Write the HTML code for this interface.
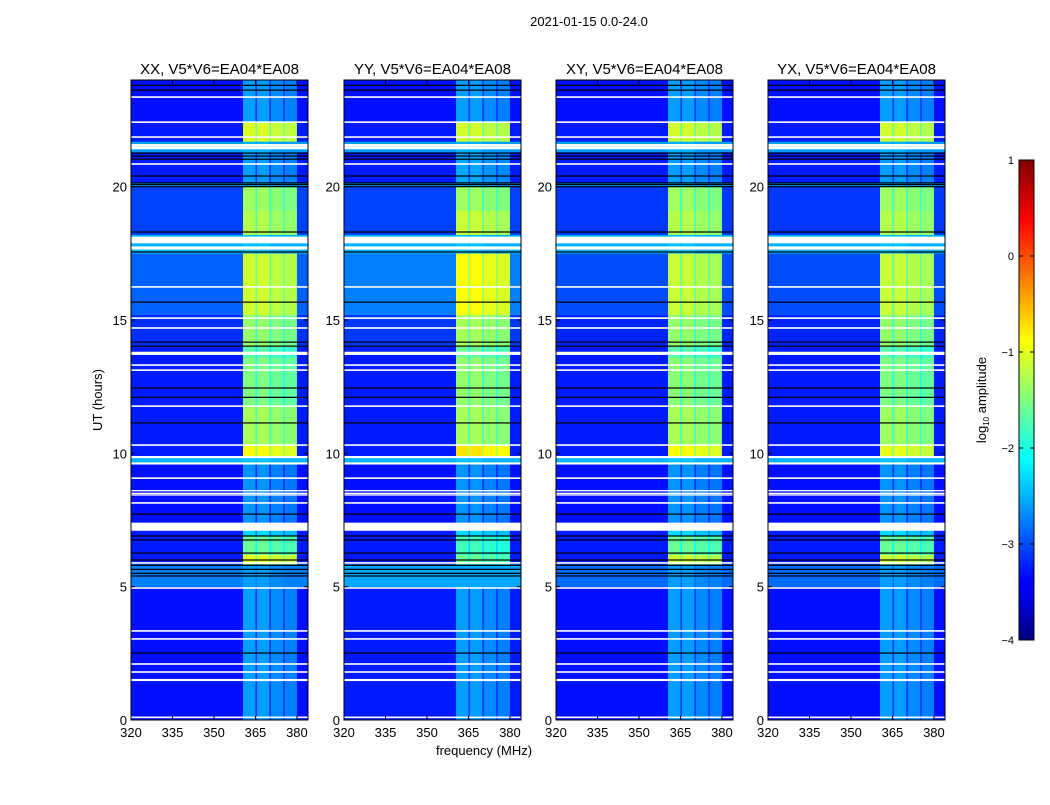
<!DOCTYPE html>
<html><head><meta charset="utf-8"><style>
body{margin:0;background:#fff;width:1050px;height:800px;overflow:hidden;font-family:"Liberation Sans",sans-serif}
svg text{font-family:"Liberation Sans",sans-serif;fill:#000}
</style></head><body>
<svg id="chart" width="1050" height="800" viewBox="0 0 1050 800" xmlns="http://www.w3.org/2000/svg">
<defs><linearGradient id="jet" x1="0" y1="1" x2="0" y2="0">
<stop offset="0" stop-color="#000080"/><stop offset="0.11" stop-color="#0000ff"/><stop offset="0.125" stop-color="#0000ff"/><stop offset="0.375" stop-color="#00ffff"/><stop offset="0.625" stop-color="#ffff00"/><stop offset="0.875" stop-color="#ff0000"/><stop offset="1" stop-color="#800000"/></linearGradient></defs>
<text x="589" y="26" font-size="13" text-anchor="middle">2021-01-15 0.0-24.0</text>
<text transform="translate(102,400) rotate(-90)" font-size="13" text-anchor="middle">UT (hours)</text>
<text x="484" y="755" font-size="13" text-anchor="middle">frequency (MHz)</text>
<g id="panels"></g>
<g>
<rect x="1019" y="160" width="15" height="480" fill="url(#jet)" stroke="#000" stroke-width="1"/>
<g id="cbticks"></g>
<text transform="translate(986,400) rotate(-90)" font-size="13" text-anchor="middle">log<tspan font-size="8" dy="3">10</tspan><tspan dy="-3"> amplitude</tspan></text>
</g>
</svg>
<script>
const panelTitles=["XX, V5*V6=EA04*EA08","YY, V5*V6=EA04*EA08","XY, V5*V6=EA04*EA08","YX, V5*V6=EA04*EA08"];
const segStart=[0,5,5.85,6.2,6.9,7.4,9.65,9.85,10.3,11.8,13.6,14,15.2,17.5,18.2,19.1,20,20.15,21.3,21.7,22.4];
const segEnd=[5,5.85,6.2,6.9,7.1,9.65,9.85,10.3,11.8,13.6,14,15.2,17.5,18.2,19.1,20,20.15,21.3,21.7,22.4,24];
const bgXX=[-3.3,-2.75,-3.25,-3.25,-3.25,-3.3,-2.5,-3.25,-3.25,-3.25,-3.25,-3.15,-2.9,-2.5,-3.05,-3.05,-2.6,-3.25,-2.6,-3.25,-3.3];
const bgYY=[-3.25,-2.55,-3.25,-3.25,-3.25,-3.3,-2.5,-3.25,-3.25,-3.25,-3.25,-3.1,-2.75,-2.5,-3.05,-3.05,-2.6,-3.25,-2.6,-3.25,-3.3];
const bgXY=[-3.3,-2.85,-3.25,-3.25,-3.25,-3.3,-2.5,-3.25,-3.25,-3.25,-3.25,-3.2,-3.0,-2.5,-3.1,-3.1,-2.6,-3.25,-2.6,-3.25,-3.3];
const bgYX=[-3.3,-2.85,-3.25,-3.25,-3.25,-3.3,-2.5,-3.25,-3.25,-3.25,-3.25,-3.2,-3.0,-2.5,-3.1,-3.1,-2.6,-3.25,-2.6,-3.25,-3.3];
const bandXX=[-2.6,-2.6,-1.0,-1.6,-2.3,-2.65,-2.4,-0.9,-1.3,-1.5,-1.7,-1.4,-1.1,-2.4,-1.25,-1.35,-2.5,-2.6,-2.5,-1.05,-2.6];
const bandYY=[-2.6,-2.6,-1.6,-1.8,-2.3,-2.65,-2.4,-0.75,-1.3,-1.4,-1.6,-1.3,-0.9,-2.4,-1.15,-1.35,-2.5,-2.55,-2.5,-1.1,-2.6];
const bandXY=[-2.6,-2.6,-1.1,-1.6,-2.3,-2.65,-2.4,-0.9,-1.3,-1.45,-1.7,-1.4,-1.15,-2.4,-1.25,-1.35,-2.5,-2.6,-2.5,-1.1,-2.6];
const bandYX=[-2.6,-2.6,-1.1,-1.6,-2.3,-2.65,-2.4,-1.0,-1.35,-1.5,-1.7,-1.4,-1.15,-2.4,-1.25,-1.35,-2.5,-2.6,-2.5,-1.1,-2.6];
const chanStart=[320,360.5,365,365.6,370,370.6,375,375.6,380];
const chanEnd=[360.5,365,365.6,370,370.6,375,375.6,380,384];
const chanOff=[null,0,-0.5,0,-0.5,-0.1,-0.5,-0.15,null];
const whiteFlags=[23.36,22.42,21.86,21.45,21.55,20.85,18.0,17.7,16.24,15.07,14.7,13.75,13.31,13.12,11.77,10.31,9.86,9.62,9.07,8.6,8.5,8.44,8.14,7.15,7.25,7.35,5.89,4.95,3.34,3.04,2.1,1.8,1.5,0.1];
const whiteWidth=[0.06,0.06,0.06,0.1,0.1,0.06,0.25,0.12,0.06,0.06,0.06,0.12,0.06,0.06,0.06,0.06,0.08,0.08,0.06,0.05,0.05,0.05,0.06,0.1,0.1,0.1,0.06,0.06,0.06,0.06,0.06,0.06,0.08,0.06];
const blackFlags=[23.8,23.62,21.26,21.15,21.03,20.4,20.0,20.08,20.14,18.3,17.55,15.67,14.17,14.02,12.45,12.1,11.14,7.72,6.9,6.75,6.26,6.0,5.8,5.65,5.5,5.4,2.51];
const yTicks=[0,5,10,15,20];
const xTicks=[320,335,350,365,380];
const cbTicks=[1,0,-1,-2,-3,-4];
const cbLabels=["1","0","\u22121","\u22122","\u22123","\u22124"];
const bgs=[bgXX,bgYY,bgXY,bgYX], bands=[bandXX,bandYY,bandXY,bandYX];
const panelX=[131,344,556,768], PW=177, PT=80, PB=720;
const NS="http://www.w3.org/2000/svg";
function jet(v){let x=(v+4)/5;x=Math.max(0,Math.min(1,x));
 const c=t=>Math.round(255*Math.max(0,Math.min(1,t)));
 const r=c(1.5-Math.abs(4*x-3)),g=c(1.5-Math.abs(4*x-2)),b=c(1.5-Math.abs(4*x-1));
 return `rgb(${r},${g},${b})`;}
const yS=h=>PB-(h/24)*(PB-PT);
function mk(tag,attrs,parent){const e=document.createElementNS(NS,tag);for(const k in attrs)e.setAttribute(k,attrs[k]);parent.appendChild(e);return e;}
const root=document.getElementById('panels');
panelTitles.forEach((title,p)=>{
 const x0=panelX[p], xS=f=>x0+(f-320)/64*PW;
 const g=mk('g',{},root);
 
 
 for(let s=0;s<segStart.length;s++){
  for(let c=0;c<chanStart.length;c++){
   let v=chanOff[c]===null?bgs[p][s]:Math.max(bgs[p][s],bands[p][s]+chanOff[c]);
   const r=mk('rect',{x:xS(chanStart[c]),y:yS(segEnd[s]),width:xS(chanEnd[c])-xS(chanStart[c])+0.3,height:yS(segStart[s])-yS(segEnd[s])+0.3,fill:jet(v)},g);
   
   
  }
 }
 whiteFlags.forEach((h,i)=>{const w=whiteWidth[i];
  const r=mk('rect',{x:x0,y:yS(h+w/2),width:PW,height:Math.max(1.2,yS(h-w/2)-yS(h+w/2)),fill:'#fff'},g);
  
  });
 blackFlags.forEach(h=>{
  const r=mk('rect',{x:x0,y:yS(h)-0.6,width:PW,height:1.2,fill:'#000'},g);
  
  });
 const fr=mk('rect',{x:x0,y:PT,width:PW,height:PB-PT,fill:'none',stroke:'#000','stroke-width':1},g);
 
 
 const t=mk('text',{x:x0+PW/2,y:74,'font-size':15,'text-anchor':'middle'},g);t.textContent=title;
 
 
 yTicks.forEach(v=>{const y=yS(v);
  mk('line',{x1:x0,x2:x0+4,y1:y,y2:y,stroke:'#000'},g);mk('line',{x1:x0+PW-4,x2:x0+PW,y1:y,y2:y,stroke:'#000'},g);
  const l=mk('text',{x:x0-4,y:y+5,'font-size':13,'text-anchor':'end'},g);l.textContent=v;
  
  });
 xTicks.forEach(v=>{const x=xS(v);
  mk('line',{x1:x,x2:x,y1:PB,y2:PB-4,stroke:'#000'},g);mk('line',{x1:x,x2:x,y1:PT,y2:PT+4,stroke:'#000'},g);
  const l=mk('text',{x:x,y:737,'font-size':13,'text-anchor':'middle'},g);l.textContent=v;
  
  });
});
const cb=document.getElementById('cbticks');
cbTicks.forEach((v,i)=>{const y=160+(1-v)/5*480;
 mk('line',{x1:1019,x2:1023,y1:y,y2:y,stroke:'#000'},cb);mk('line',{x1:1030,x2:1034,y1:y,y2:y,stroke:'#000'},cb);
 const l=mk('text',{x:1014,y:y+4,'font-size':11,'text-anchor':'end'},cb);l.textContent=cbLabels[i];
 
 });
</script>
</body></html>
